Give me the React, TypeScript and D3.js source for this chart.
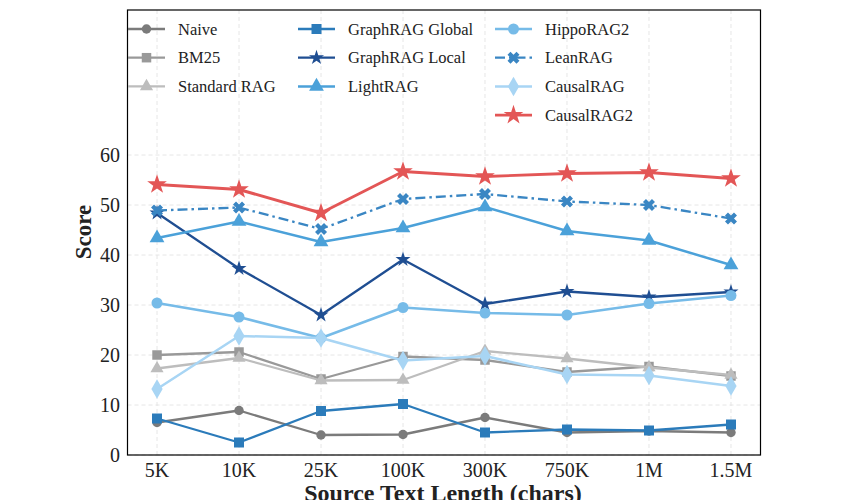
import React from 'react';
import * as d3 from 'd3';

// x categories (source text length)
const lengths = ['5K', '10K', '25K', '100K', '300K', '750K', '1M', '1.5M'];
const yTicks = [0, 10, 20, 30, 40, 50, 60];

// scores per method
const naive = [6.5, 8.9, 4.0, 4.1, 7.5, 4.5, 4.8, 4.5];
const bm25 = [20.0, 20.6, 15.2, 19.7, 19.0, 16.6, 17.7, 15.8];
const standardRag = [17.3, 19.4, 14.9, 15.0, 20.8, 19.3, 17.5, 16.0];
const graphragGlobal = [7.3, 2.5, 8.8, 10.2, 4.5, 5.1, 4.9, 6.1];
const graphragLocal = [48.4, 37.3, 28.0, 39.1, 30.2, 32.7, 31.6, 32.6];
const lightrag = [43.4, 46.7, 42.6, 45.4, 49.6, 44.8, 42.9, 38.0];
const hipporag2 = [30.4, 27.6, 23.4, 29.5, 28.4, 28.0, 30.3, 31.9];
const leanrag = [48.9, 49.5, 45.2, 51.2, 52.2, 50.7, 50.0, 47.3];
const causalrag = [13.2, 23.8, 23.4, 18.9, 19.8, 16.1, 15.9, 13.8];
const causalrag2 = [54.1, 53.1, 48.4, 56.7, 55.7, 56.3, 56.5, 55.3];

type Series = {
  name: string;
  values: number[];
  color: string;
  symbol: d3.SymbolType;
  rotate?: number;
  size: number;
  dash?: string;
  width: number;
};

const series: Series[] = [
  { name: 'Naive', values: naive, color: '#7b7b7b', symbol: d3.symbolCircle, size: 70, width: 2.3 },
  { name: 'BM25', values: bm25, color: '#999999', symbol: d3.symbolSquare, size: 90, width: 2.3 },
  { name: 'Standard RAG', values: standardRag, color: '#bdbdbd', symbol: d3.symbolTriangle, size: 75, width: 2.3 },
  { name: 'GraphRAG Global', values: graphragGlobal, color: '#2b7bba', symbol: d3.symbolSquare, size: 100, width: 2.3 },
  { name: 'GraphRAG Local', values: graphragLocal, color: '#1f4e92', symbol: d3.symbolStar, size: 70, width: 2.3 },
  { name: 'LightRAG', values: lightrag, color: '#4ba1d9', symbol: d3.symbolTriangle, size: 95, width: 2.5 },
  { name: 'HippoRAG2', values: hipporag2, color: '#76bbe8', symbol: d3.symbolCircle, size: 95, width: 2.5 },
  { name: 'LeanRAG', values: leanrag, color: '#3a86c3', symbol: d3.symbolCross, rotate: 45, size: 90, dash: '10,4,2.5,4', width: 2.3 },
  { name: 'CausalRAG', values: causalrag, color: '#a8d5f4', symbol: d3.symbolDiamond, size: 110, width: 2.5 },
  { name: 'CausalRAG2', values: causalrag2, color: '#e35656', symbol: d3.symbolStar, size: 120, width: 2.9 },
];

const W = 845;
const H = 500;
const left = 127.5;
const right = 760.5;
const top = 10;
const bottom = 455;
const font = '"Liberation Serif", "DejaVu Serif", serif';

const App = () => {
  const x = d3.scalePoint<string>().domain(lengths).range([left, right]).padding(0.36);
  const y = d3.scaleLinear().domain([0, 89]).range([bottom, top]);

  const line = d3
    .line<number>()
    .x((d, i) => x(lengths[i]) as number)
    .y((d) => y(d));

  const marker = (s: Series) => d3.symbol().type(s.symbol).size(s.size)() as string;

  // legend layout: three columns filled top to bottom
  const legendCols = [
    { hx: 128, tx: 178, items: series.slice(0, 3) },
    { hx: 298, tx: 348, items: series.slice(3, 6) },
    { hx: 495, tx: 545, items: series.slice(6, 10) },
  ];
  const rowY = (r: number) => 29 + r * 28.7;

  return (
    <svg
      width={W}
      height={H}
      style={{ position: 'absolute', left: 0, top: 0, background: '#fff' }}
      fontFamily={font}
    >
      {/* grid */}
      <g stroke="#e3e3e3" strokeWidth={0.9} strokeDasharray="4,3">
        {yTicks.map((t) => (
          <line key={'gy' + t} x1={left} x2={right} y1={y(t)} y2={y(t)} />
        ))}
        {lengths.map((c) => (
          <line key={'gx' + c} x1={x(c)} x2={x(c)} y1={top} y2={bottom} />
        ))}
      </g>

      {/* series */}
      {series.map((s) => (
        <g key={s.name}>
          <path
            d={line(s.values) as string}
            fill="none"
            stroke={s.color}
            strokeWidth={s.width}
            strokeDasharray={s.dash}
            strokeLinejoin="round"
          />
          {s.values.map((v, i) => (
            <path
              key={i}
              d={marker(s)}
              fill={s.color}
              transform={`translate(${x(lengths[i])},${y(v)}) rotate(${s.rotate || 0})`}
            />
          ))}
        </g>
      ))}

      {/* frame */}
      <rect x={left} y={top} width={right - left} height={bottom - top} fill="none" stroke="#000" strokeWidth={1.2} />

      {/* y tick labels */}
      {yTicks.map((t) => (
        <text key={'ty' + t} x={120} y={y(t)} dy="0.35em" textAnchor="end" fontSize={20} fill="#222">
          {t}
        </text>
      ))}
      {/* x tick labels */}
      {lengths.map((c) => (
        <text key={'tx' + c} x={x(c)} y={477} textAnchor="middle" fontSize={20} fill="#222">
          {c}
        </text>
      ))}

      <text x={443} y={501} textAnchor="middle" fontSize={24} fontWeight="bold" fill="#222">
        Source Text Length (chars)
      </text>
      <text
        transform={`translate(91,232) rotate(-90)`}
        textAnchor="middle"
        fontSize={23}
        fontWeight="bold"
        fill="#222"
      >
        Score
      </text>

      {/* legend */}
      {legendCols.map((col) =>
        col.items.map((s, r) => (
          <g key={'lg' + s.name} transform={`translate(0,${rowY(r)})`}>
            <line
              x1={col.hx}
              x2={col.hx + 37}
              y1={0}
              y2={0}
              stroke={s.color}
              strokeWidth={s.width}
              strokeDasharray={s.dash}
            />
            <path
              d={marker(s)}
              fill={s.color}
              transform={`translate(${col.hx + 18.5},0) rotate(${s.rotate || 0})`}
            />
            <text x={col.tx} y={0} dy="0.35em" fontSize={16.5} fill="#222">
              {s.name}
            </text>
          </g>
        ))
      )}
    </svg>
  );
};

export default App;
